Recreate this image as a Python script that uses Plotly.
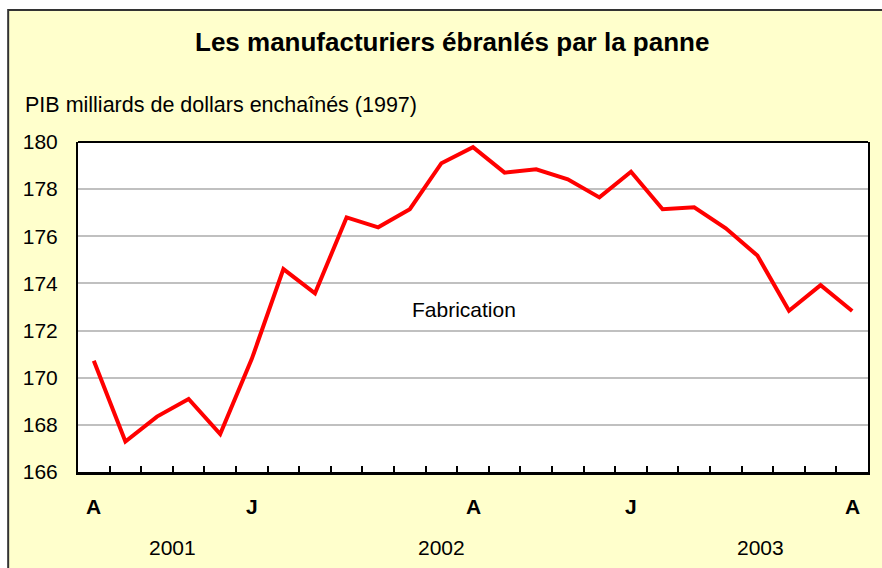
import plotly.graph_objects as go

# ---- data ----
values = [170.72, 167.29, 168.35, 169.10, 167.61, 170.80, 174.61, 173.58, 176.80,
          176.38, 177.15, 179.10, 179.78, 178.70, 178.84, 178.42, 177.65, 178.74,
          177.15, 177.23, 176.34, 175.18, 172.84, 173.93, 172.83]
month_labels = ["A", "J", "A", "J", "A"]
month_label_index = [0, 5, 12, 17, 24]
year_labels = ["2001", "2002", "2003"]
year_label_pos = [2.5, 11.0, 21.1]
y_ticks = [166, 168, 170, 172, 174, 176, 178, 180]
title_text = "Les manufacturiers ébranlés par la panne"
y_title = "PIB milliards de dollars enchaînés (1997)"
series_name = "Fabrication"

W, H = 882, 568
ML, MR, MT, MB = 78, 12, 142, 96
PH = H - MT - MB
PW = W - ML - MR

def py(px):  # pixel y from top -> paper y
    return (H - MB - px) / PH

def pxx(px):  # pixel x from left -> paper x
    return (px - ML) / PW

FONT = "Liberation Sans, Arial, sans-serif"
n = len(values)
xs = list(range(n))

fig = go.Figure()
fig.add_trace(go.Scatter(x=xs, y=values, mode="lines",
                         line=dict(color="#FF0000", width=4),
                         name=series_name, showlegend=False, hoverinfo="x+y"))

boundaries = [i - 0.5 for i in range(n + 1)]

fig.update_layout(
    width=W, height=H,
    margin=dict(l=ML, r=MR, t=MT, b=MB),
    paper_bgcolor="white",
    plot_bgcolor="white",
    font=dict(family=FONT, color="black", size=21),
    xaxis=dict(range=[-0.5, n - 0.5], tickvals=boundaries, ticktext=[""] * len(boundaries),
               ticks="inside", ticklen=6, tickwidth=2, tickcolor="black",
               showgrid=False, zeroline=False, showline=True, linecolor="black",
               linewidth=3, fixedrange=True),
    yaxis=dict(range=[166, 180], tickvals=y_ticks, ticks="", showgrid=True,
               gridcolor="#C0C0C0", gridwidth=2, zeroline=False, showline=True,
               linecolor="black", linewidth=2, mirror=True,
               tickfont=dict(size=21), ticklabelstandoff=14, fixedrange=True),
)

# yellow frame background
fig.add_shape(type="rect", xref="paper", yref="paper",
              x0=pxx(8), x1=pxx(W + 10), y0=py(H + 10), y1=py(10),
              fillcolor="#FFFFCC", line=dict(color="#333333", width=2), layer="below")
# white plot area over the yellow
fig.add_shape(type="rect", xref="paper", yref="paper",
              x0=0, x1=1, y0=0, y1=1,
              fillcolor="white", line=dict(width=0), layer="below")
# top border of plot area
fig.add_shape(type="line", xref="paper", yref="paper", x0=0, x1=1, y0=1, y1=1,
              line=dict(color="black", width=2))

ann = []
ann.append(dict(text="<b>" + title_text + "</b>", xref="paper", yref="paper",
                x=pxx(453), y=py(42), xanchor="center", yanchor="middle",
                showarrow=False, font=dict(size=26)))
ann.append(dict(text=y_title, xref="paper", yref="paper", x=pxx(23), y=py(105),
                xanchor="left", yanchor="middle", showarrow=False, font=dict(size=21.5)))
ann.append(dict(text=series_name, x=11.7, y=172.9, xref="x", yref="y",
                xanchor="center", yanchor="middle", showarrow=False, font=dict(size=21)))
for lab, idx in zip(month_labels, month_label_index):
    ann.append(dict(text="<b>" + lab + "</b>", x=idx, xref="x", yref="paper", y=py(506),
                    xanchor="center", yanchor="middle", showarrow=False, font=dict(size=21)))
for lab, pos in zip(year_labels, year_label_pos):
    ann.append(dict(text=lab, x=pos, xref="x", yref="paper", y=py(547),
                    xanchor="center", yanchor="middle", showarrow=False, font=dict(size=21)))
fig.update_layout(annotations=ann)

fig.write_html("out.html", config={"displayModeBar": False},
               post_script="document.body.style.margin='0';")
